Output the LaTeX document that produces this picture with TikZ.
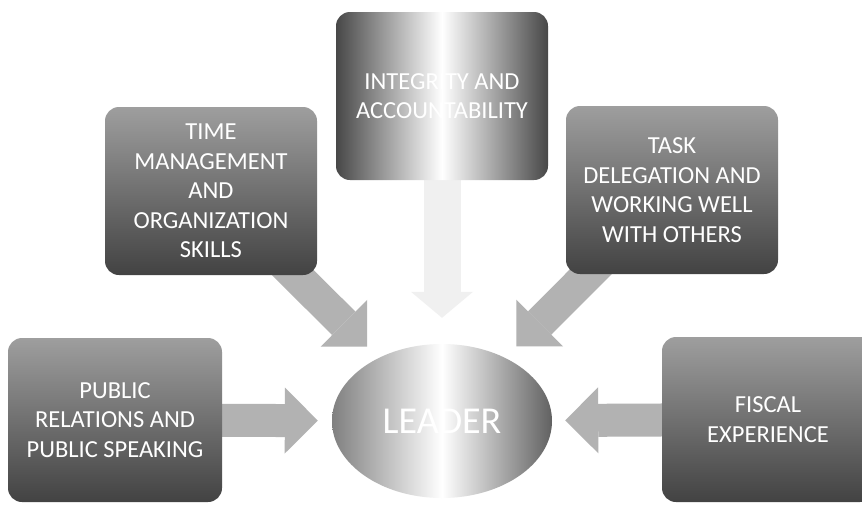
\documentclass[tikz,border=0pt]{standalone}
\usepackage{fontspec}
\setmainfont{Carlito}
\usetikzlibrary{arrows.meta,shapes.geometric,backgrounds}
\begin{document}
\begin{tikzpicture}[x=1pt,y=-1pt,
  box/.style={rounded corners=14pt, minimum width=212pt, minimum height=168pt,
    inner sep=0pt, align=center, text=white, font=\fontsize{24.5}{29.5}\selectfont,
    top color=black!38, bottom color=black!74, middle color=black!56},
  hbox/.style={box, left color=black!72, right color=black!72, middle color=white},
  bigarrow/.style={draw=black!30, line width=33pt, shorten <=-20pt,
    -{Triangle[width=66pt 0 0, length=33pt 0 0, line width=0pt 0 0]}},
  faintarrow/.style={draw=black!6, line width=37pt, shorten <=-20pt,
    -{Triangle[width=62pt 0 0, length=26pt 0 0, line width=0pt 0 0]}}
]
\useasboundingbox (0,0) rectangle (862,504);

\node[hbox] (ia) at (442,96) {INTEGRITY AND\\ACCOUNTABILITY};
\node[box] (tm) at (211,191) {TIME\\MANAGEMENT\\AND\\ORGANIZATION\\SKILLS};
\node[box] (td) at (672,190) {TASK\\DELEGATION AND\\WORKING WELL\\WITH OTHERS};
\node[box, minimum width=214pt, minimum height=164pt] (pr) at (115,420) {PUBLIC\\RELATIONS AND\\PUBLIC SPEAKING};
\node[box, minimum height=165pt] (fe) at (768,419.5) {FISCAL\\EXPERIENCE};
\node[ellipse, minimum width=220pt, minimum height=154pt, inner sep=0pt,
  left color=black!50, right color=black!62, middle color=white,
  text=white, font=\fontsize{38}{40}\selectfont] (leader) at (442,421) {LEADER};

\begin{scope}[on background layer]
\fill[white] (0,0) rectangle (862,504);
\draw[faintarrow, shorten >=26pt] (ia) -- (leader);
\draw[bigarrow, shorten >=16pt] (tm) -- (leader);
\draw[bigarrow, shorten >=16pt] (td) -- (leader);
\draw[bigarrow, shorten >=14pt] (pr) -- (leader);
\draw[bigarrow, shorten >=13pt] (fe) -- (leader);
\end{scope}
\end{tikzpicture}
\end{document}
